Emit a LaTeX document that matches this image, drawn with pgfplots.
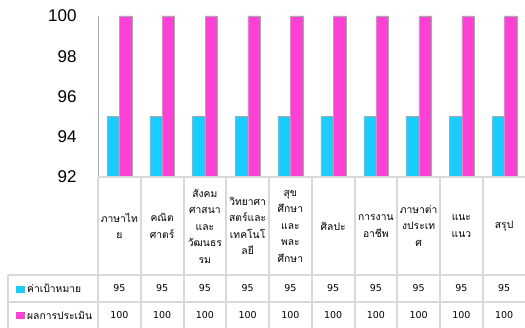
\documentclass[border=0pt]{standalone}
\usepackage{fontspec}
\setmainfont{Liberation Sans}
\newfontfamily\thaifont[Script=Thai]{Loma}
\newfontfamily\numfont{DejaVu Sans}
\usepackage{pgfplots}
\pgfplotsset{compat=1.18}
\usepackage{pgfplotstable}
\definecolor{cyanbar}{RGB}{26,204,255}
\definecolor{magbar}{RGB}{255,64,212}
\definecolor{gridgray}{RGB}{217,217,217}
\definecolor{axgray}{RGB}{170,170,170}

\pgfplotstableread{
x target result
0 95 100
1 95 100
2 95 100
3 95 100
4 95 100
5 95 100
6 95 100
7 95 100
8 95 100
9 95 100
}\data

\begin{document}
\begin{tikzpicture}[x=1pt,y=1pt]
\useasboundingbox (0,0) rectangle (525,327);
\begin{axis}[at={(98pt,150pt)}, anchor=south west, scale only axis,
  width=428pt, height=161pt,
  xmin=-0.5, xmax=9.5, ymin=92, ymax=100,
  ytick={92,94,96,98,100}, xtick=\empty,
  axis lines*=left, axis line style={-},
  x axis line style={draw=none},
  y axis line style={axgray, line width=0.8pt},
  major tick length=0pt,
  /pgf/number format/assume math mode=true,
  yticklabel style={font=\fontsize{17}{17}\selectfont, xshift=-18pt},
  ybar=0pt, bar width=12.4pt,
  clip=true]
\addplot[fill=cyanbar, draw=axgray, line width=0.5pt] table[x=x,y=target]{\data};
\addplot[fill=magbar, draw=axgray, line width=0.5pt] table[x=x,y=result]{\data};
\end{axis}
\begin{scope}[gridgray, line width=2pt]
\draw (98,149.5) -- (527,149.5);
\draw (8,52) -- (527,52);
\draw (8,25.5) -- (527,25.5);
\draw (8,52) -- (8,-1);
\foreach \i in {0,...,9} \draw ({98+42.75*\i},150) -- ({98+42.75*\i},-1);
\end{scope}
\tikzset{hdr/.style={align=center, inner sep=0pt, font=\thaifont\fontsize{10.3}{16.5}\selectfont},
         lbl/.style={inner sep=0pt, font=\thaifont\fontsize{10.3}{12}\selectfont},
         num/.style={inner sep=0pt, font=\numfont\fontsize{9.5}{12}\selectfont}}
\node[hdr] at ({98+42.75*0.5},101) {ภาษาไท\\ย};
\node[hdr] at ({98+42.75*1.5},101) {คณิต\\ศาตร์};
\node[hdr] at ({98+42.75*2.5},101) {สังคม\\ศาสนา\\และ\\วัฒนธร\\รม};
\node[hdr] at ({98+42.75*3.5},101) {วิทยาศา\\สตร์และ\\เทคโนโ\\ลยี};
\node[hdr] at ({98+42.75*4.5},101) {สุข\\ศึกษา\\และ\\พละ\\ศึกษา};
\node[hdr] at ({98+42.75*5.5},101) {ศิลปะ};
\node[hdr] at ({98+42.75*6.5},101) {การงาน\\อาชีพ};
\node[hdr] at ({98+42.75*7.5},101) {ภาษาต่า\\งประเท\\ศ};
\node[hdr] at ({98+42.75*8.5},101) {แนะ\\แนว};
\node[hdr] at ({98+42.75*9.5},101) {สรุป};
\fill[cyanbar] (16,34) rectangle (25,41.5);
\fill[magbar] (16,7.7) rectangle (25,15.3);
\node[lbl, anchor=west] at (27,38.5) {ค่าเป้าหมาย};
\node[lbl, anchor=west] at (27,12) {ผลการประเมิน};
\foreach \i in {0,...,9} {
  \node[num] at ({98+42.75*(\i+0.5)},38.5) {95};
  \node[num] at ({98+42.75*(\i+0.5)},12) {100};
}
\end{tikzpicture}
\end{document}
